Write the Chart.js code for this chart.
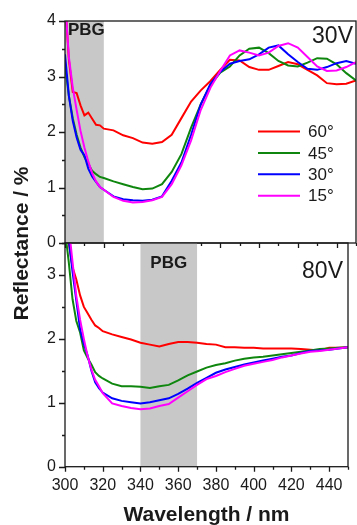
<!DOCTYPE html>
<html>
<head>
<meta charset="utf-8">
<script src="https://cdn.jsdelivr.net/npm/chart.js@4.4.1/dist/chart.umd.min.js"></script>
<style>
  html, body { margin: 0; padding: 0; background: #fff; }
  #wrap { position: relative; width: 357px; height: 525px; }
  canvas { position: absolute; left: 0; top: 0; }
</style>
</head>
<body>
<div id="wrap">
  <canvas id="top" width="357" height="525"></canvas>
  <canvas id="bottom" width="357" height="525"></canvas>
</div>
<script>
// wavelength grid (nm)
const wavelength = [300, 302, 304, 306, 308, 310, 312, 314, 316, 318, 320,
  325, 330, 335, 340, 345, 350, 355, 360, 365, 370, 375, 380, 385, 390, 395,
  400, 405, 410, 415, 420, 425, 430, 435, 440, 445, 450];

const angles = ['60°', '45°', '30°', '15°'];
const colors = ['#ff0000', '#0f870f', '#0000ff', '#ff00ff'];

// 30V panel
const v30_60 = [4.4, 3.3, 2.72, 2.7, 2.48, 2.3, 2.35, 2.24, 2.13, 2.12, 2.06,
  2.03, 1.94, 1.89, 1.81, 1.79, 1.82, 1.95, 2.25, 2.55, 2.75, 2.92, 3.12, 3.3, 3.29, 3.17,
  3.12, 3.12, 3.19, 3.26, 3.22, 3.12, 3.02, 2.88, 2.86, 2.87, 2.93];
const v30_45 = [3.2, 2.65, 2.25, 1.95, 1.72, 1.55, 1.43, 1.3, 1.24, 1.19, 1.17,
  1.11, 1.06, 1.01, 0.97, 0.98, 1.06, 1.28, 1.6, 2.08, 2.5, 2.85, 3.07, 3.18, 3.38, 3.5,
  3.52, 3.42, 3.28, 3.2, 3.18, 3.25, 3.33, 3.32, 3.22, 3.06, 2.93];
const v30_30 = [3.4, 2.65, 2.2, 1.9, 1.68, 1.58, 1.34, 1.2, 1.1, 1.01, 0.96,
  0.84, 0.79, 0.77, 0.76, 0.78, 0.84, 1.12, 1.45, 1.95, 2.5, 2.87, 3.08, 3.23, 3.28, 3.31,
  3.4, 3.52, 3.56, 3.4, 3.26, 3.14, 3.12, 3.17, 3.24, 3.28, 3.23];
const v30_15 = [4.4, 3.35, 2.8, 2.4, 2.02, 1.72, 1.47, 1.26, 1.11, 1.01, 0.96,
  0.83, 0.76, 0.73, 0.74, 0.77, 0.83, 1.06, 1.4, 1.85, 2.4, 2.8, 3.1, 3.38, 3.47, 3.43,
  3.38, 3.43, 3.55, 3.6, 3.52, 3.35, 3.18, 3.1, 3.11, 3.17, 3.26];

// 80V panel
const v80_60 = [4.0, 3.5, 3.12, 2.93, 2.68, 2.5, 2.4, 2.3, 2.21, 2.17, 2.12,
  2.07, 2.03, 1.99, 1.94, 1.91, 1.88, 1.92, 1.95, 1.95, 1.94, 1.92, 1.91, 1.87, 1.87, 1.86,
  1.86, 1.85, 1.85, 1.85, 1.85, 1.84, 1.83, 1.82, 1.86, 1.86, 1.87];
const v80_45 = [3.7, 3.2, 2.62, 2.28, 2.1, 1.82, 1.7, 1.6, 1.48, 1.42, 1.38,
  1.3, 1.26, 1.26, 1.25, 1.23, 1.26, 1.28, 1.35, 1.43, 1.49, 1.55, 1.59, 1.62, 1.66, 1.69,
  1.71, 1.72, 1.74, 1.76, 1.78, 1.8, 1.82, 1.84, 1.85, 1.86, 1.87];
const v80_30 = [4.0, 3.55, 3.05, 2.6, 2.15, 1.92, 1.74, 1.5, 1.32, 1.23, 1.16,
  1.07, 1.03, 1.01, 0.99, 1.01, 1.04, 1.07, 1.14, 1.22, 1.31, 1.39, 1.47, 1.52, 1.56, 1.6,
  1.63, 1.66, 1.69, 1.72, 1.74, 1.78, 1.81, 1.82, 1.83, 1.85, 1.87];
const v80_15 = [4.3, 3.75, 3.2, 2.67, 2.3, 2.0, 1.73, 1.52, 1.36, 1.26, 1.15,
  0.99, 0.95, 0.92, 0.9, 0.91, 0.95, 0.98, 1.08, 1.18, 1.28, 1.37, 1.42, 1.48, 1.53, 1.58,
  1.61, 1.64, 1.67, 1.71, 1.74, 1.77, 1.8, 1.81, 1.83, 1.85, 1.87];

const xTickLabels = [300, 320, 340, 360, 380, 400, 420, 440];
const yTickLabelsTop = [0, 1, 2, 3, 4];
const yTickLabelsBottom = [0, 1, 2, 3];

const FONT = '"Liberation Sans", Arial, sans-serif';
const INK = '#1a1a1a';

function makeDatasets(series) {
  return series.map((vals, i) => ({
    label: angles[i],
    data: wavelength.map((w, k) => ({ x: w, y: vals[k] })),
    borderColor: colors[i],
    borderWidth: 2,
    pointRadius: 0,
    tension: 0,
    order: 4 - i
  }));
}

// grey photonic band gap + frame + ticks + labels
const panelPlugin = {
  id: 'panel',
  beforeDatasetsDraw(chart) {
    const o = chart.options.plugins.panel;
    const { ctx, chartArea: a, scales: { x } } = chart;
    const x0 = x.getPixelForValue(o.band[0]);
    const x1 = x.getPixelForValue(o.band[1]);
    ctx.save();
    ctx.fillStyle = '#c8c8c8';
    ctx.fillRect(x0, a.top, x1 - x0, a.bottom - a.top);
    ctx.restore();
  },
  afterDraw(chart) {
    const o = chart.options.plugins.panel;
    const { ctx, chartArea: a, scales: { x, y } } = chart;
    ctx.save();
    ctx.strokeStyle = INK;
    ctx.lineWidth = 1.3;
    ctx.strokeRect(a.left, a.top, a.right - a.left, a.bottom - a.top);
    ctx.beginPath();
    for (let v = x.min; v <= x.max; v += 10) {
      const px = Math.round(x.getPixelForValue(v)) + 0.5;
      const len = xTickLabels.includes(v) ? 5 : 3;
      ctx.moveTo(px, a.bottom);
      ctx.lineTo(px, a.bottom + len);
    }
    for (let v = y.min; v <= y.max; v += 0.5) {
      const py = Math.round(y.getPixelForValue(v)) + 0.5;
      const len = Number.isInteger(v) ? 6 : 3;
      ctx.moveTo(a.left, py);
      ctx.lineTo(a.left - len, py);
    }
    ctx.stroke();

    // PBG label
    const x0 = x.getPixelForValue(o.band[0]);
    const x1 = x.getPixelForValue(o.band[1]);
    ctx.fillStyle = INK;
    ctx.font = 'bold 17px ' + FONT;
    ctx.textBaseline = 'alphabetic';
    if (o.pbgAlign === 'left') {
      ctx.textAlign = 'left';
      ctx.fillText('PBG', x0 + 3, a.top + 14);
    } else {
      ctx.textAlign = 'center';
      ctx.fillText('PBG', (x0 + x1) / 2, a.top + 25);
    }

    // voltage label
    ctx.font = '23px ' + FONT;
    ctx.textAlign = 'right';
    ctx.fillText(o.voltage, a.right - o.vRight, a.top + o.vBase);

    if (o.legend) {
      ctx.font = '17px ' + FONT;
      ctx.textAlign = 'left';
      ctx.textBaseline = 'middle';
      angles.forEach((lab, i) => {
        const yy = 131.5 + i * 21.4;
        ctx.strokeStyle = colors[i];
        ctx.lineWidth = 2;
        ctx.beginPath();
        ctx.moveTo(258, yy);
        ctx.lineTo(300, yy);
        ctx.stroke();
        ctx.fillStyle = INK;
        ctx.fillText(lab, 308, yy + 1);
      });
    }

    if (o.titles) {
      ctx.fillStyle = INK;
      ctx.font = 'bold 21px ' + FONT;
      ctx.textAlign = 'center';
      ctx.textBaseline = 'alphabetic';
      ctx.fillText('Wavelength / nm', (a.left + a.right) / 2, 521);
      ctx.translate(28, 243.5);
      ctx.rotate(-Math.PI / 2);
      ctx.fillText('Reflectance / %', 0, 0);
    }
    ctx.restore();
  }
};

function yScale(max, labels) {
  return {
    min: 0,
    max: max,
    grid: { display: false, drawTicks: false },
    border: { display: false },
    afterFit: s => { s.width = 65; },
    ticks: {
      stepSize: 0.5,
      autoSkip: false,
      padding: 9,
      color: INK,
      font: { family: FONT, size: 16 },
      callback: v => labels.includes(v) ? String(v) : ''
    }
  };
}

new Chart(document.getElementById('top'), {
  type: 'line',
  data: { datasets: makeDatasets([v30_60, v30_45, v30_30, v30_15]) },
  options: {
    responsive: false,
    animation: false,
    layout: { padding: { top: 21, right: 1, bottom: 282, left: 0 } },
    plugins: {
      legend: { display: false },
      tooltip: { enabled: false },
      panel: { band: [300, 320], pbgAlign: 'left', voltage: '30V', vRight: 3, vBase: 22, legend: true }
    },
    scales: {
      x: { type: 'linear', min: 300, max: 450, display: false },
      y: yScale(4, yTickLabelsTop)
    }
  },
  plugins: [panelPlugin]
});

new Chart(document.getElementById('bottom'), {
  type: 'line',
  data: { datasets: makeDatasets([v80_60, v80_45, v80_30, v80_15]) },
  options: {
    responsive: false,
    animation: false,
    layout: { padding: { top: 243, right: 1, bottom: 0, left: 0 } },
    plugins: {
      legend: { display: false },
      tooltip: { enabled: false },
      panel: { band: [340, 370], pbgAlign: 'center', voltage: '80V', vRight: 5, vBase: 35, titles: true }
    },
    scales: {
      x: {
        type: 'linear',
        min: 300,
        max: 450,
        grid: { display: false, drawTicks: false },
        border: { display: false },
        afterFit: s => { s.height = 58.3; },
        ticks: {
          stepSize: 10,
          autoSkip: false,
          maxRotation: 0,
          padding: 9,
          color: INK,
          font: { family: FONT, size: 16 },
          callback: v => xTickLabels.includes(v) ? String(v) : ''
        }
      },
      y: yScale(3.5, yTickLabelsBottom)
    }
  },
  plugins: [panelPlugin]
});
</script>
</body>
</html>
